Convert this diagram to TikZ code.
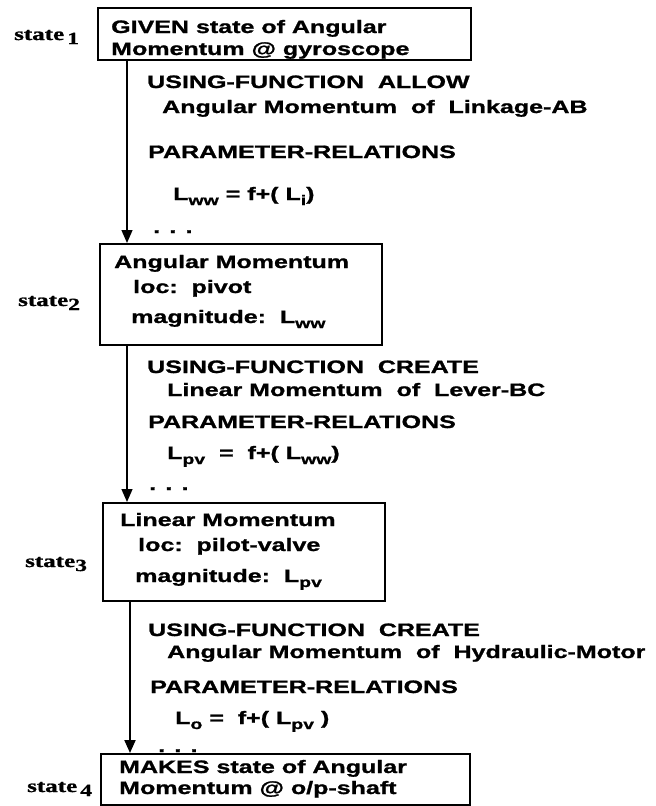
\documentclass[tikz,border=0pt]{standalone}
\usepackage{fontspec}
\usetikzlibrary{arrows.meta}
\newfontfamily\sfb{Liberation Sans}[FakeStretch=1.39,FakeBold=1.2]
\newfontfamily\serb{Liberation Serif}[FakeStretch=1.39,FakeBold=1.2]
\newcommand\lsub[1]{\raisebox{-5pt}{\fontsize{14}{14}\selectfont #1}}
\newcommand\ssub[1]{\raisebox{-4pt}{\fontsize{17}{17}\selectfont #1}}
\tikzset{
  txt/.style={anchor=base west, inner sep=0pt, font=\sfb\bfseries\fontsize{18}{20}\selectfont},
  lbl/.style={anchor=base west, inner sep=0pt, font=\serb\bfseries\fontsize{18}{20}\selectfont},
  box/.style={draw, line width=1.6pt, rectangle, inner sep=0pt, anchor=north west},
  arr/.style={line width=1.3pt, -{Triangle[width=11pt,length=13pt]}}
}
\begin{document}
\begin{tikzpicture}[x=1pt,y=-1pt]
\useasboundingbox (0,0) rectangle (656,806);
% boxes
\node[box, minimum width=373pt, minimum height=52pt] (b1) at (97,7) {};
\node[box, minimum width=282pt, minimum height=101pt] (b2) at (99,243) {};
\node[box, minimum width=282pt, minimum height=98pt] (b3) at (102,502) {};
\node[box, minimum width=369pt, minimum height=51pt] (b4) at (100,753) {};
% connectors
\draw[arr] ([xshift=30pt]b1.south west) -- ([xshift=28pt]b2.north west);
\draw[arr] ([xshift=28pt]b2.south west) -- ([xshift=25pt]b3.north west);
\draw[arr, line width=2pt] ([xshift=28pt]b3.south west) -- ([xshift=30pt]b4.north west);
% state labels
\node[lbl] (s1) at (14,40) {state\,\ssub{1}};
\node[lbl] (s2) at (18,306) {state\ssub{2}};
\node[lbl] (s3) at (25,567) {state\ssub{3}};
\node[lbl] (s4) at (27,792) {state\,\ssub{4}};
% box 1
\node[txt] (t11) at (111,33) {GIVEN state of Angular};
\node[txt] (t12) at (111,55) {Momentum @ gyroscope};
% section 1
\node[txt] (u11) at (147,88) {USING-FUNCTION\ \ ALLOW};
\node[txt] (u12) at (162,113) {Angular Momentum\ \ of\ \ Linkage-AB};
\node[txt] (u13) at (148,158) {PARAMETER-RELATIONS};
\node[txt] (u14) at (173,200) {L\lsub{ww} = f+( L\lsub{i})};
\node[txt] (u15) at (153,233) {. . .};
% box 2
\node[txt] (t21) at (114,268) {Angular Momentum};
\node[txt] (t22) at (133,293) {loc:\ \ pivot};
\node[txt] (t23) at (131,323) {magnitude:\ \ L\lsub{ww}};
% section 2
\node[txt] (u21) at (147,373) {USING-FUNCTION\ \ CREATE};
\node[txt] (u22) at (167,396) {Linear Momentum\ \ of\ \ Lever-BC};
\node[txt] (u23) at (148,428) {PARAMETER-RELATIONS};
\node[txt] (u24) at (167,459) {L\lsub{pv}\ \ =\ \ f+( L\lsub{ww})};
\node[txt] (u25) at (149,490) {. . .};
% box 3
\node[txt] (t31) at (120,526) {Linear Momentum};
\node[txt] (t32) at (138,551) {loc:\ \ pilot-valve};
\node[txt] (t33) at (135,582) {magnitude:\ \ L\lsub{pv}};
% section 3
\node[txt] (u31) at (148,636) {USING-FUNCTION\ \ CREATE};
\node[txt] (u32) at (167,658) {Angular Momentum\ \ of\ \ Hydraulic-Motor};
\node[txt] (u33) at (150,693) {PARAMETER-RELATIONS};
\node[txt] (u34) at (175,724) {L\lsub{o} =\ \ f+( L\lsub{pv} )};
\node[txt] (u35) at (158,752) {. . .};
% box 4
\node[txt] (t41) at (119,773) {MAKES state of Angular};
\node[txt] (t42) at (119,794) {Momentum @ o/p-shaft};
\end{tikzpicture}
\end{document}
